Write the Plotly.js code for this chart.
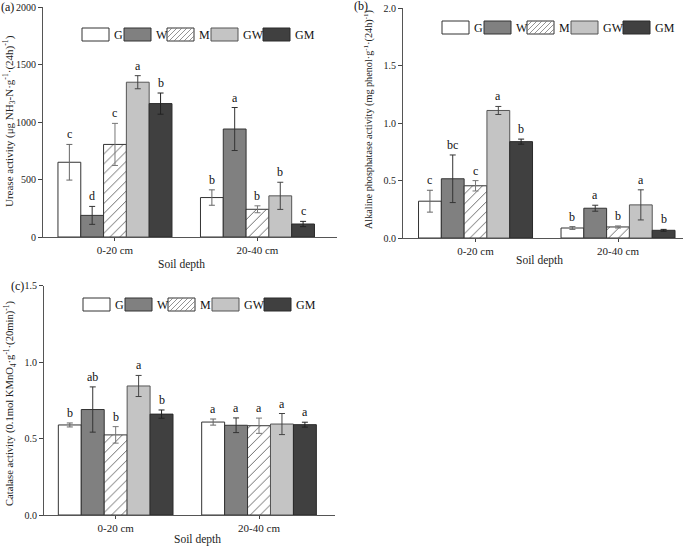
<!DOCTYPE html>
<html>
<head>
<meta charset="utf-8">
<script src="https://cdn.plot.ly/plotly-3.0.1.min.js"></script>
<style>html,body{margin:0;padding:0;background:#fff;}#chart{width:685px;height:546px;}</style>
</head>
<body>
<div id="chart"></div>
<script>
// ---------------- DATA ----------------
const depths = ['0-20 cm', '20-40 cm'];
const treatments = ['G', 'W', 'M', 'GW', 'GM'];

// [treatment][depth]
const ureaseMean = [[650, 343], [188, 939], [805, 241], [1346, 358], [1160, 113]];
const ureaseErr = [[155, 67], [78, 187], [183, 30], [57, 118], [92, 23]];
const ureaseLetters = [['c', 'b'], ['d', 'a'], ['c', 'b'], ['a', 'b'], ['b', 'c']];

const alpMean = [[0.320, 0.087], [0.515, 0.259], [0.454, 0.096], [1.109, 0.288], [0.838, 0.067]];
const alpErr = [[0.095, 0.012], [0.207, 0.026], [0.045, 0.009], [0.035, 0.131], [0.022, 0.008]];
const alpLetters = [['c', 'b'], ['bc', 'a'], ['c', 'b'], ['a', 'a'], ['b', 'b']];

const catMean = [[0.589, 0.608], [0.690, 0.587], [0.524, 0.584], [0.844, 0.595], [0.660, 0.591]];
const catErr = [[0.013, 0.020], [0.148, 0.048], [0.054, 0.050], [0.069, 0.069], [0.027, 0.016]];
const catLetters = [['b', 'a'], ['ab', 'a'], ['b', 'a'], ['a', 'a'], ['b', 'a']];

const ureaseTitle = 'Urease activity (μg NH<sub>3</sub>-N·g<sup>-1</sup>·(24h)<sup>-1</sup>)';
const alpTitle = 'Alkaline phosphatase activity (mg phenol·g<sup>-1</sup>·(24h)<sup>-1</sup>)';
const catTitle = 'Catalase activity (0.1mol KMnO<sub>4</sub>·g<sup>-1</sup>·(20min)<sup>-1</sup>)';
const xTitle = 'Soil depth';
const panelLabels = ['(a)', '(b)', '(c)'];

// ---------------- STYLE ----------------
const W = 685, H = 546;
const FONT = '"Liberation Serif", "Times New Roman", Times, serif';
const fillColors = ['#ffffff', '#808080', '#ffffff', '#c4c4c4', '#404040'];
const lineColors = ['#333333', '#333333', '#333333', '#555555', '#2a2a2a'];
const errColors = ['#666666', '#333333', '#777777', '#444444', '#222222'];
const hatch = [false, false, true, false, false];
const BARGAP = 0.2;

function px(x) { return x / W; }
function py(y) { return 1 - y / H; }

const panels = [
  { key: '', left: 43, right: 337, top: 7, bottom: 237, xr: [-0.505, 1.558], yr: [0, 2000], dtick: 500, fmt: 'd',
    mean: ureaseMean, err: ureaseErr, letters: ureaseLetters, ytitle: ureaseTitle, ytx: 9, ytc: 121, ytsize: 11,
    xtx: 181, xty: 264, legTop: 28, lab: [7, 7] },
  { key: '2', left: 403, right: 683, top: 8, bottom: 238, xr: [-0.509, 1.456], yr: [0, 2], dtick: 0.5, fmt: '.1f',
    mean: alpMean, err: alpErr, letters: alpLetters, ytitle: alpTitle, ytx: 368, ytc: 120, ytsize: 10.2,
    xtx: 539, xty: 260, legTop: 21, lab: [361, 6] },
  { key: '3', left: 44, right: 335, top: 285.7, bottom: 515, xr: [-0.50, 1.53], yr: [0, 1.5], dtick: 0.5, fmt: '.1f',
    mean: catMean, err: catErr, letters: catLetters, ytitle: catTitle, ytx: 10, ytc: 404, ytsize: 10.6,
    xtx: 197, xty: 539, legTop: 298, lab: [17, 286] }
];

const traces = [];
const layout = {
  width: W, height: H,
  margin: { l: 0, r: 0, t: 0, b: 0 },
  paper_bgcolor: '#fff', plot_bgcolor: '#fff',
  showlegend: false,
  barmode: 'group', bargap: BARGAP, bargroupgap: 0,
  font: { family: FONT, color: '#222', size: 11 },
  annotations: [], shapes: []
};

const nT = treatments.length;
const bw = (1 - BARGAP) / nT;
const legOffsets = [39, 81, 124, 168, 220];
const legBoxW = 27, legBoxH = 13;

panels.forEach((p, pi) => {
  const xa = 'x' + p.key, ya = 'y' + p.key;
  layout['xaxis' + p.key] = {
    domain: [px(p.left), px(p.right)], range: p.xr, anchor: ya,
    tickvals: depths.map((d, i) => i), ticktext: depths,
    ticks: 'outside', ticklen: 3, tickcolor: '#444', tickwidth: 1,
    showline: true, linecolor: '#555', linewidth: 1,
    showgrid: false, zeroline: false,
    tickfont: { family: FONT, size: 11, color: '#222' }, fixedrange: true
  };
  layout['yaxis' + p.key] = {
    domain: [py(p.bottom), py(p.top)], range: p.yr, anchor: xa,
    dtick: p.dtick, tick0: 0, tickformat: p.fmt,
    ticks: 'outside', ticklen: 4, tickcolor: '#444', tickwidth: 1,
    showline: true, linecolor: '#555', linewidth: 1,
    showgrid: false, zeroline: false,
    tickfont: { family: FONT, size: 10, color: '#222' }, fixedrange: true
  };

  treatments.forEach((t, i) => {
    const marker = { color: fillColors[i], line: { color: lineColors[i], width: 1 } };
    if (hatch[i]) marker.pattern = { shape: '/', fgcolor: '#6a6a6a', bgcolor: '#ffffff', size: 7, solidity: 0.14 };
    traces.push({
      type: 'bar', name: t, xaxis: xa, yaxis: ya,
      x: depths.map((d, j) => j), y: p.mean[i],
      marker: marker,
      error_y: { type: 'data', array: p.err[i], visible: true, color: errColors[i], thickness: 1, width: 3 },
      hoverinfo: 'y+name'
    });
    depths.forEach((d, j) => {
      layout.annotations.push({
        xref: xa, yref: ya,
        x: j + (i - (nT - 1) / 2) * bw, y: p.mean[i][j] + p.err[i][j],
        text: p.letters[i][j], showarrow: false, xanchor: 'center', yanchor: 'bottom', yshift: 1,
        font: { family: FONT, size: 12, color: '#111' }
      });
    });
  });

  layout.annotations.push({
    xref: 'paper', yref: 'paper', x: px(p.ytx), y: py(p.ytc),
    text: p.ytitle, textangle: -90, showarrow: false, xanchor: 'center', yanchor: 'middle',
    font: { family: FONT, size: p.ytsize, color: '#222' }
  });
  layout.annotations.push({
    xref: 'paper', yref: 'paper', x: px(p.xtx), y: py(p.xty),
    text: xTitle, showarrow: false, xanchor: 'center', yanchor: 'middle',
    font: { family: FONT, size: 11.5, color: '#222' }
  });
  layout.annotations.push({
    xref: 'paper', yref: 'paper', x: px(p.lab[0]), y: py(p.lab[1]),
    text: panelLabels[pi], showarrow: false, xanchor: 'center', yanchor: 'middle',
    font: { family: FONT, size: 12, color: '#111' }
  });

  treatments.forEach((t, i) => {
    const x0 = p.left + legOffsets[i], x1 = x0 + legBoxW;
    const y0 = p.legTop, y1 = p.legTop + legBoxH;
    layout.shapes.push({
      type: 'rect', xref: 'paper', yref: 'paper',
      x0: px(x0), x1: px(x1), y0: py(y1), y1: py(y0),
      fillcolor: fillColors[i], line: { color: lineColors[i], width: 1 }
    });
    if (hatch[i]) {
      let path = '';
      const s = 5, w = legBoxW, h = legBoxH;
      for (let t0 = -h; t0 < w; t0 += s) {
        let ax = t0, ay = h, bx = t0 + h, by = 0;
        if (ax < 0) { ay = h + ax; ax = 0; }
        if (bx > w) { by = bx - w; bx = w; }
        if (ay <= by) continue;
        path += 'M' + px(x0 + ax) + ',' + py(y0 + ay) + 'L' + px(x0 + bx) + ',' + py(y0 + by);
      }
      layout.shapes.push({ type: 'path', xref: 'paper', yref: 'paper', path: path, line: { color: '#777', width: 0.8 } });
    }
    layout.annotations.push({
      xref: 'paper', yref: 'paper', x: px(x1 + 3), y: py((y0 + y1) / 2),
      text: t, showarrow: false, xanchor: 'left', yanchor: 'middle',
      font: { family: FONT, size: 12, color: '#111' }
    });
  });
});

Plotly.newPlot('chart', traces, layout, { displayModeBar: false, staticPlot: true });
</script>
</body>
</html>
